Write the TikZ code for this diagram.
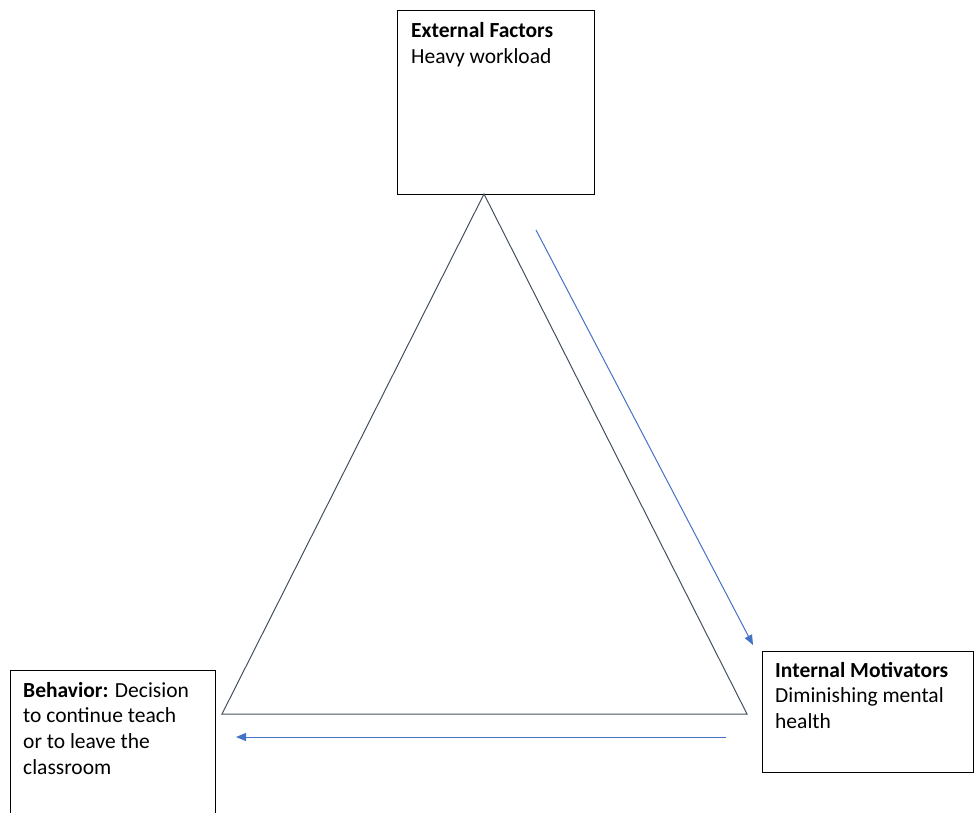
\documentclass[tikz,border=0pt]{standalone}
\usepackage{fontspec}
\setmainfont{Carlito}
\usetikzlibrary{arrows.meta}
\definecolor{triline}{HTML}{44505F}
\definecolor{arrblue}{HTML}{4472C4}
\newcommand{\boxlines}[1]{\parbox[t]{260pt}{\fontsize{21.5}{25.7}\selectfont\raggedright #1}}
\tikzset{
  box/.style={draw=black, line width=1pt, anchor=north west, inner sep=0pt},
  boxtext/.style={anchor=base west, inner sep=0pt},
  flow/.style={draw=arrblue, line width=1pt, -{Triangle[length=10pt,width=8pt]}},
}
\begin{document}
\begin{tikzpicture}[x=1pt,y=-1pt]
\useasboundingbox (0,0) rectangle (974,813);
% boxes
\node[box, minimum width=197pt, minimum height=184pt] (ext) at (397,10) {};
\node[box, minimum width=205pt, minimum height=160pt] (beh) at (10,670) {};
\node[box, minimum width=211pt, minimum height=121pt] (int) at (762,651) {};
% texts
\node[boxtext] (extt) at (411,37.5) {\boxlines{\textbf{External Factors}\\Heavy workload}};
\node[boxtext] (beht) at (23,697) {\boxlines{\textbf{Behavior:} Decision\\to continue teach\\or to leave the\\classroom}};
\node[boxtext] (intt) at (775,677) {\boxlines{\textbf{Internal Motivators}\\Diminishing mental\\health}};
% triangle
\coordinate (apex) at (484,194);
\coordinate (bl) at (222,714);
\coordinate (br) at (747,714);
\draw[triline, line width=1pt, line join=miter] (apex) -- (bl) -- (br) -- cycle;
% arrows
\coordinate (a1s) at (536,230);
\coordinate (a1e) at (753,645);
\coordinate (a2s) at (726,737);
\coordinate (a2e) at (236,737);
\draw[flow] (a1s) -- (a1e);
\draw[flow] (a2s) -- (a2e);
\end{tikzpicture}
\end{document}
